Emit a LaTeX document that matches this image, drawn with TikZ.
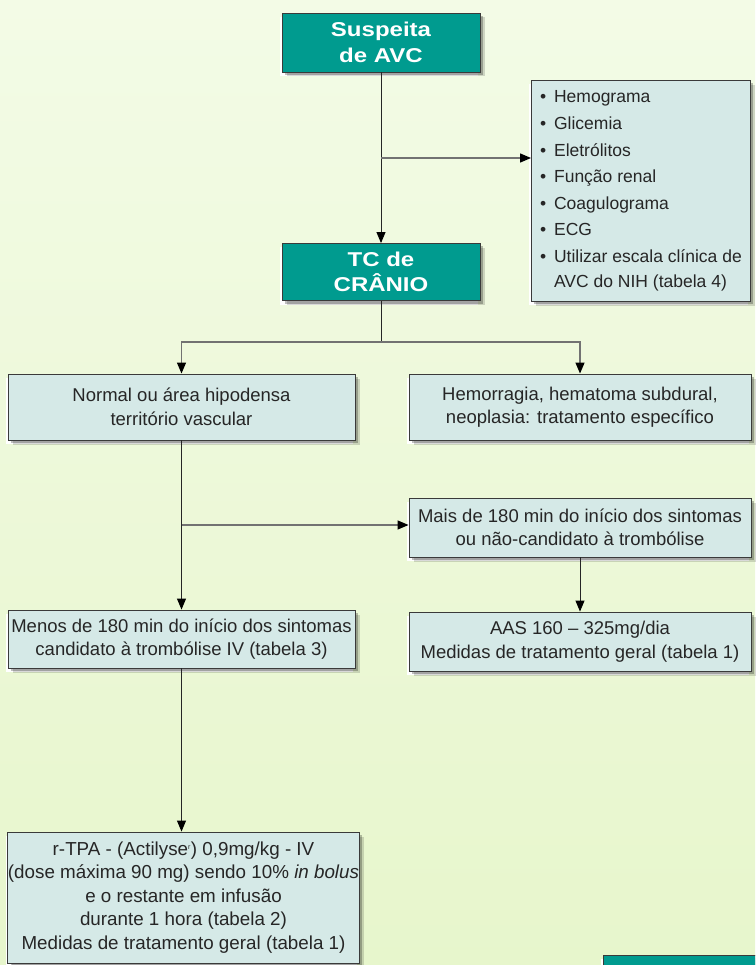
\documentclass[tikz,border=0pt]{standalone}
\usepackage{fontspec}
\setmainfont{Liberation Sans}
\newfontfamily\headfont[FakeStretch=1.2]{Liberation Sans Bold}
\usetikzlibrary{arrows.meta,shadows}

\definecolor{bgtop}{HTML}{F3FBE6}
\definecolor{bgbot}{HTML}{E7F6CC}
\definecolor{tealbox}{HTML}{009B8F}
\definecolor{infofill}{HTML}{D5E9E7}
\definecolor{boxline}{HTML}{3A3A3A}
\definecolor{inktext}{HTML}{262626}
\definecolor{forkgray}{HTML}{727272}

\tikzset{
  panel/.style={draw=boxline, line width=0.9pt, inner sep=0pt, align=center,
    general shadow={fill=white, shadow xshift=-2pt, shadow yshift=-4pt},
    general shadow={fill=black, opacity=0.15, shadow xshift=4.5pt, shadow yshift=-4.5pt},
    general shadow={fill=black, opacity=0.25, shadow xshift=3pt, shadow yshift=-3pt}},
  headbox/.style={panel, fill=tealbox, text=white,
    font=\headfont\fontsize{20}{25.5}\selectfont, minimum width=198pt},
  infobox/.style={panel, fill=infofill, text=inktext,
    font=\fontsize{18.5}{23.5}\selectfont},
  link/.style={draw=black!85, line width=0.9pt},
  fork/.style={draw=forkgray, line width=1.3pt},
  tip/.style={-{Triangle[length=11pt,width=9pt,color=black]}},
}

\newcommand{\bul}{\makebox[14pt][l]{\textbullet}}

\begin{document}
\begin{tikzpicture}[x=1pt,y=-1pt]
  % page and background wash
  \useasboundingbox (0,0) rectangle (755,965);
  \fill[top color=bgtop, bottom color=bgbot] (0,0) rectangle (755,965);

  % header boxes
  \node[headbox, minimum height=59pt] (susp) at (381,42.5) {Suspeita\\de AVC};
  \node[headbox, minimum height=57pt] (tc) at (381,272) {TC de\\CRÂNIO};

  % initial exams (lines broken by hand)
  \node[infobox, anchor=north west, align=left,
        minimum width=219pt, minimum height=221pt,
        font=\fontsize{17.5}{26.6}\selectfont] (exams) at (531,80)
    {\bul Hemograma\\
     \bul Glicemia\\
     \bul Eletrólitos\\
     \bul Função renal\\
     \bul Coagulograma\\
     \bul ECG\\
     \bul Utilizar escala clínica de\\[-1.6pt]
     \hspace*{14pt}AVC do NIH (tabela 4)};

  % imaging result
  \node[infobox, minimum width=347pt, minimum height=66pt] (norm) at (181.5,407)
    {Normal ou área hipodensa\\território vascular};
  \node[infobox, minimum width=342pt, minimum height=66pt] (hem) at (580,407)
    {Hemorragia, hematoma subdural,\\neoplasia: tratamento específico};

  % time window
  \node[infobox, minimum width=342pt, minimum height=59pt] (mais) at (580,527.5)
    {Mais de 180 min do início dos sintomas\\ou não-candidato à trombólise};
  \node[infobox, minimum width=342pt, minimum height=59pt] (aas) at (580,641.5)
    {AAS 160 -- 325mg/dia\\Medidas de tratamento geral (tabela 1)};
  \node[infobox, minimum width=347pt, minimum height=58pt] (menos) at (181.5,639)
    {Menos de 180 min do início dos sintomas\\candidato à trombólise IV (tabela 3)};

  % thrombolysis
  \node[infobox, minimum width=351pt, minimum height=131pt,
        font=\fontsize{18.8}{23.5}\selectfont] (rtpa) at (183.5,897.5)
    {r-TPA - (Actilyse\textsuperscript{\scriptsize r}) 0,9mg/kg - IV\\
     (dose máxima 90 mg) sendo 10\% \textit{in bolus}\\
     e o restante em infusão\\
     durante 1 hora (tabela 2)\\
     Medidas de tratamento geral (tabela 1)};

  % next table header, cut by the page edge
  \begin{scope}
    \clip (0,0) rectangle (755,965);
    \node[headbox, anchor=north west, minimum width=170pt, minimum height=40pt] (tab) at (603,955) {};
  \end{scope}

  % junction points
  \coordinate (j1) at (381,158);
  \coordinate (split) at (381,342);
  \coordinate (j2) at (181.5,525);

  % connectors
  \draw[link, tip] (susp) -- (tc);
  \draw[fork, tip] (j1) -- (exams.west |- j1);
  \draw[link] (tc.south) -- (split);
  \draw[fork, tip] (split) -| (norm.north);
  \draw[fork, tip] (split) -| (hem.north);
  \draw[link, tip] (norm.south) -- (menos.north);
  \draw[fork, tip] (j2) -- (mais.west |- j2);
  \draw[link, tip] (mais.south) -- (aas.north);
  \draw[link, tip] (menos.south) -- (menos.south |- rtpa.north);
\end{tikzpicture}
\end{document}
